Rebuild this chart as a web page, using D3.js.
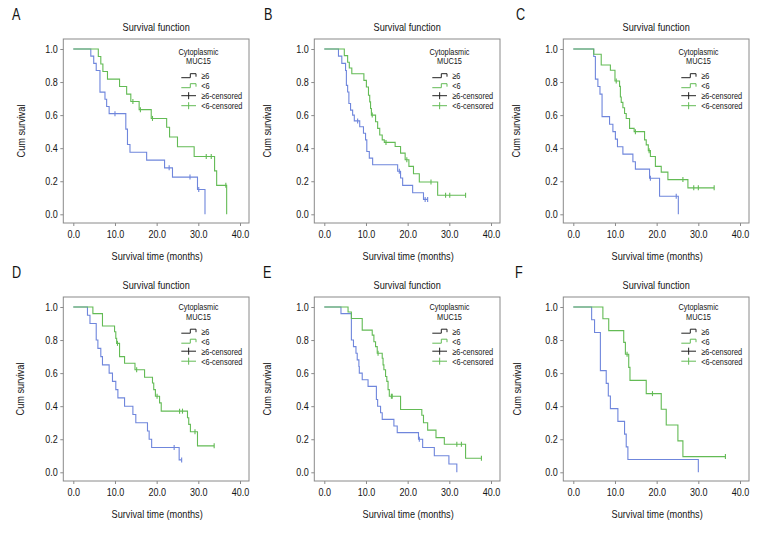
<!DOCTYPE html>
<html><head><meta charset="utf-8">
<script src="https://cdn.jsdelivr.net/npm/d3@7"></script>
<style>
body{margin:0;background:#fff}
text{font-family:"Liberation Sans",Arial,sans-serif;fill:#151515}
</style>
</head><body><svg id="c" width="768" height="540"></svg>
<script>
const xTicks=[0,10,20,30,40];
const yTicks=[0,0.2,0.4,0.6,0.8,1.0];
const panelLetters=["A","B","C","D","E","F"];
const titleText="Survival function";
const xLabel="Survival time (months)";
const yLabel="Cum survival";
const legendTitle=["Cytoplasmic","MUC15"];
const legendLabels=["\u22656","<6","\u22656-censored","<6-censored"];

// steps: [time (months), cumulative survival after the drop]; censored: times
const A_hi=[[4.2,0.957],[4.9,0.913],[5.5,0.870],[6.4,0.739],[7.6,0.696],[8.0,0.652],[8.6,0.609],[12.6,0.515],[13.0,0.422],[13.6,0.375],[17.6,0.328],[21.9,0.281],[23.8,0.225],[29.8,0.150],[31.6,0]];
const A_hiCens=[10.0,23.0,28.0,30.1];
const A_lo=[[6.0,0.955],[6.6,0.909],[7.1,0.864],[8.2,0.818],[11.1,0.773],[12.8,0.727],[13.8,0.682],[15.8,0.633],[18.7,0.580],[22.4,0.527],[23.1,0.468],[25.0,0.409],[29.0,0.350],[33.9,0.263],[34.4,0.175],[36.8,0]];
const A_loCens=[14.3,16.1,19.0,31.9,33.1,36.6];

const B_hi=[[3.4,0.957],[4.2,0.913],[5.1,0.870],[5.3,0.780],[5.6,0.740],[5.9,0.670],[6.3,0.630],[6.8,0.600],[7.2,0.565],[8.5,0.530],[9.4,0.490],[9.9,0.450],[10.2,0.380],[10.8,0.340],[11.6,0.300],[17.6,0.260],[18.3,0.220],[18.8,0.175],[21.2,0.130],[23.8,0.090]];
const B_hiCens=[8.0,18.0,24.2,24.8];
const B_lo=[[4.8,0.960],[5.6,0.920],[6.0,0.885],[6.6,0.850],[9.5,0.810],[10.1,0.770],[10.6,0.720],[10.9,0.680],[11.1,0.640],[11.3,0.600],[12.3,0.560],[12.8,0.520],[13.3,0.480],[13.9,0.450],[14.4,0.435],[17.0,0.410],[18.3,0.370],[19.4,0.330],[20.3,0.290],[21.4,0.245],[22.8,0.195],[27.2,0.115]];
const B_loCens=[11.5,14.8,19.8,25.6,29.1,30.1,33.9];

const C_hi=[[4.9,0.955],[5.3,0.818],[5.9,0.773],[6.4,0.727],[6.9,0.591],[8.7,0.545],[9.5,0.500],[10.1,0.455],[10.6,0.409],[11.9,0.364],[14.3,0.318],[14.9,0.273],[18.3,0.218],[20.7,0.109],[25.2,0]];
const C_hiCens=[18.5,24.7];
const C_lo=[[4.9,0.968],[6.7,0.903],[8.9,0.871],[10.0,0.806],[11.1,0.774],[11.3,0.710],[11.5,0.677],[11.9,0.645],[12.3,0.610],[12.7,0.580],[13.5,0.520],[14.6,0.500],[17.1,0.450],[17.5,0.420],[18.0,0.385],[18.5,0.350],[19.7,0.290],[21.1,0.255],[22.7,0.210],[27.5,0.160]];
const C_loCens=[10.3,14.9,18.2,26.3,28.9,30.0,33.8];

const D_hi=[[3.4,0.95],[4.0,0.90],[5.5,0.80],[5.9,0.75],[6.6,0.70],[7.0,0.65],[8.6,0.60],[9.4,0.55],[10.2,0.50],[10.7,0.45],[12.3,0.40],[14.3,0.35],[15.0,0.30],[17.8,0.25],[18.2,0.20],[18.8,0.15],[25.4,0.075]];
const D_hiCens=[24.2,26.0];
const D_lo=[[4.7,0.960],[7.0,0.885],[9.9,0.850],[10.2,0.810],[10.4,0.780],[11.1,0.700],[12.3,0.660],[14.8,0.620],[17.1,0.575],[19.0,0.540],[19.3,0.500],[19.7,0.460],[20.7,0.420],[21.1,0.370],[27.4,0.330],[27.7,0.290],[28.1,0.245],[29.8,0.160]];
const D_loCens=[10.6,15.2,20.1,25.5,26.2,29.2,33.8];

const E_hi=[[4.0,0.96],[6.5,0.80],[7.0,0.76],[7.6,0.72],[7.9,0.68],[8.3,0.64],[8.4,0.60],[9.1,0.56],[10.5,0.52],[12.5,0.44],[12.8,0.40],[13.5,0.36],[13.9,0.32],[16.7,0.28],[17.5,0.24],[22.6,0.20],[23.6,0.15],[26.4,0.10],[29.9,0.05],[31.8,0]];
const E_hiCens=[22.8];
const E_lo=[[5.7,0.970],[6.5,0.930],[9.1,0.860],[11.5,0.830],[11.9,0.790],[12.3,0.760],[12.7,0.720],[13.9,0.690],[14.1,0.650],[14.3,0.620],[14.7,0.580],[15.0,0.550],[15.3,0.500],[15.6,0.460],[18.3,0.380],[23.4,0.345],[23.8,0.300],[24.8,0.255],[26.8,0.210],[28.8,0.170],[33.9,0.085]];
const E_loCens=[12.9,16.1,16.3,31.8,32.9,37.7];

const F_hi=[[4.4,0.923],[5.1,0.846],[6.5,0.615],[7.9,0.538],[8.4,0.462],[8.9,0.385],[10.7,0.308],[12.3,0.231],[12.7,0.154],[13.1,0.077],[30.0,0]];
const F_hiCens=[];
const F_lo=[[7.1,0.929],[8.5,0.857],[12.1,0.786],[12.5,0.714],[13.3,0.635],[13.6,0.556],[17.5,0.476],[21.1,0.381],[22.3,0.286],[25.1,0.190],[26.3,0.095]];
const F_loCens=[12.9,19.0,36.5];

const panelData=[
  {hi:A_hi,hiC:A_hiCens,lo:A_lo,loC:A_loCens},
  {hi:B_hi,hiC:B_hiCens,lo:B_lo,loC:B_loCens},
  {hi:C_hi,hiC:C_hiCens,lo:C_lo,loC:C_loCens},
  {hi:D_hi,hiC:D_hiCens,lo:D_lo,loC:D_loCens},
  {hi:E_hi,hiC:E_hiCens,lo:E_lo,loC:E_loCens},
  {hi:F_hi,hiC:F_hiCens,lo:F_lo,loC:F_loCens}
];

const HI_COLOR="#6f86dc", LO_COLOR="#63bb55", FRAME="#8a8a8a";
const svg=d3.select("#c");
const colX0=[73.3,324.3,573.3];          // pixel of t=0 per column
const yLabelX=[[25,271,520],[24,271,521]];
const letterX=[[12,264,516],[12,263,515]];
const rowTop=[39,297];                    // frame top per row
const legendOff=[13,10.5];

function survAt(steps,t){let s=1;for(const [tt,v] of steps){if(tt<=t)s=v;}return s;}

panelData.forEach((p,i)=>{
  const row=Math.floor(i/3), col=i%3;
  const ft=rowTop[row], fl=colX0[col]-10, fw=185.7, fh=184, fr=fl+fw, fb=ft+fh;
  const x=d3.scaleLinear().domain([0,40]).range([colX0[col],colX0[col]+166.7]);
  const y=d3.scaleLinear().domain([0,1]).range([ft+175.3,ft+10]);
  const g=svg.append("g");

  g.append("text").attr("x",letterX[row][col]).attr("y",ft-19).attr("font-size",16).text(panelLetters[i]);
  g.append("text").attr("x",fl+fw/2).attr("y",ft-8).attr("text-anchor","middle").attr("font-size",11.6).text(titleText);

  g.append("rect").attr("x",fl).attr("y",ft).attr("width",fw).attr("height",fh)
    .attr("fill","none").attr("stroke",FRAME).attr("stroke-width",1);

  const ya=g.append("g").attr("transform",`translate(${fl},0)`)
    .call(d3.axisLeft(y).tickValues(yTicks).tickSize(3).tickPadding(2.5).tickFormat(d3.format(".1f")));
  const xa=g.append("g").attr("transform",`translate(0,${fb})`)
    .call(d3.axisBottom(x).tickValues(xTicks).tickSize(3).tickPadding(4).tickFormat(d3.format(".1f")));
  [ya,xa].forEach(a=>{a.select(".domain").remove();a.selectAll("line").attr("stroke",FRAME);
    a.selectAll("text").attr("font-size",11.4).attr("fill","#151515");});

  g.append("text").attr("transform",`translate(${yLabelX[row][col]},${ft+fh/2}) rotate(-90)`)
    .attr("text-anchor","middle").attr("font-size",11.6).text(yLabel);
  g.append("text").attr("x",fl+fw/2+1).attr("y",fb+37).attr("text-anchor","middle").attr("font-size",11.6).text(xLabel);

  function stepPath(steps,cens){
    let d=`M${x(0)},${y(1)}`, s=1;
    steps.forEach(([t,v])=>{d+=`H${x(t)}V${y(v)}`;s=v;});
    const last=steps[steps.length-1][0];
    const end=Math.max(last,...(cens.length?cens:[last]));
    if(s>0&&end>last)d+=`H${x(end)}`;
    return d;
  }
  [[p.hi,p.hiC,HI_COLOR],[p.lo,p.loC,LO_COLOR]].forEach(([st,cs,col])=>{
    g.append("path").attr("d",stepPath(st,cs)).attr("fill","none").attr("stroke",col).attr("stroke-width",1.1);
    g.selectAll(null).data(cs).enter().append("line")
      .attr("x1",t=>x(t)).attr("x2",t=>x(t))
      .attr("y1",t=>y(survAt(st,t))-2.5).attr("y2",t=>y(survAt(st,t))+2.5)
      .attr("stroke",col).attr("stroke-width",1.1);
  });

  // legend
  const lt=ft+legendOff[row];
  const lg=g.append("g");
  lg.append("text").attr("x",fr-50.5).attr("y",lt+2.5).attr("text-anchor","middle").attr("font-size",9.3).text(legendTitle[0]);
  lg.append("text").attr("x",fr-50.5).attr("y",lt+12).attr("text-anchor","middle").attr("font-size",9.3).text(legendTitle[1]);
  const sx=fr-67.7, ex=fr-53, tx=fr-47.7;
  legendLabels.forEach((lab,k)=>{
    const cy=lt+23.7+k*10;
    const col=(k%2===0)?"#222":LO_COLOR;
    if(k<2){
      lg.append("path").attr("d",`M${sx},${cy+2}H${sx+9}V${cy-2}H${ex}V${cy+1}`).attr("fill","none").attr("stroke",col).attr("stroke-width",1);
    }else{
      lg.append("line").attr("x1",sx).attr("x2",ex).attr("y1",cy).attr("y2",cy).attr("stroke",col).attr("stroke-width",1);
      lg.append("line").attr("x1",(sx+ex)/2).attr("x2",(sx+ex)/2).attr("y1",cy-3.5).attr("y2",cy+3.5).attr("stroke",col).attr("stroke-width",1);
    }
    lg.append("text").attr("x",tx).attr("y",cy+3.3).attr("font-size",9.3).text(lab);
  });
});

// condense all text horizontally to mimic the narrow typeface of the original
svg.selectAll("text").each(function(){
  const L=this.getComputedTextLength();
  if(L>0){this.setAttribute("textLength",(L*0.79).toFixed(2));this.setAttribute("lengthAdjust","spacingAndGlyphs");}
});
</script>
</body></html>
